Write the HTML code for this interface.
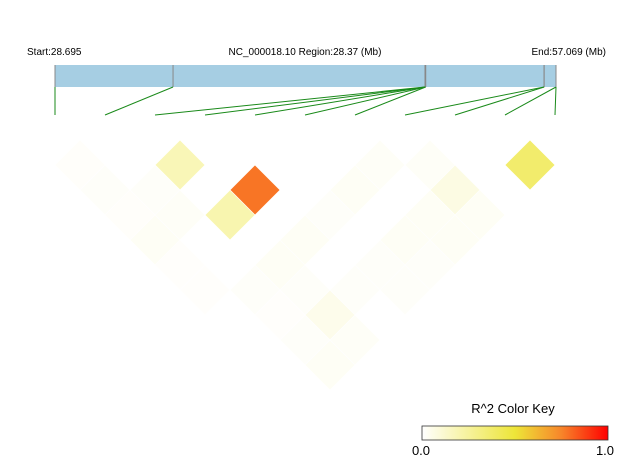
<!DOCTYPE html>
<html><head><meta charset="utf-8">
<style>
html,body{margin:0;padding:0;background:#fff;}
svg{display:block;font-family:"Liberation Sans",sans-serif;}
</style></head>
<body>
<svg id="chart" width="633" height="468" viewBox="0 0 633 468" xmlns="http://www.w3.org/2000/svg">
<defs>
<linearGradient id="keygrad" x1="0" x2="1" y1="0" y2="0">
<stop offset="0" stop-color="#ffffff"/>
<stop offset="0.5" stop-color="#ede538"/>
<stop offset="0.75" stop-color="#f7852a"/>
<stop offset="1" stop-color="#ff0000"/>
</linearGradient>
</defs>
<text x="27" y="55" font-size="10" fill="#000">Start:28.695</text>
<text x="305" y="55" font-size="10" fill="#000" text-anchor="middle">NC_000018.10 Region:28.37 (Mb)</text>
<text x="606" y="55" font-size="10" fill="#000" text-anchor="end">End:57.069 (Mb)</text>
<rect x="55" y="65" width="501" height="22" fill="#a6cee3"/>
<g id="snps"></g>
<g id="cells"></g>
<text x="513" y="413" font-size="13" fill="#000" text-anchor="middle">R^2 Color Key</text>
<rect x="422" y="426" width="186" height="14" fill="url(#keygrad)" stroke="#333" stroke-width="0.8"/>
<text x="421" y="455" font-size="13" fill="#000" text-anchor="middle">0.0</text>
<text x="605" y="455" font-size="13" fill="#000" text-anchor="middle">1.0</text>
</svg>
<script>
const snpPositions = [28.695, 35.38, 49.65, 49.66, 49.67, 49.68, 49.69, 56.39, 56.40, 57.069, 57.069];
const regionStart = 28.695;
const regionEnd = 57.069;
const pairI = [0,2,6,7,9, 0,1,3,5,7, 0,1,2,4,6,7, 0,3,5,6, 0,2,4,5, 0,1,2,3,4, 1,2, 1,2, 1];
const pairJ = [1,3,7,8,10, 2,3,5,7,9, 3,4,5,7,9,10, 4,7,9,10, 5,7,9,10, 6,7,8,9,10, 8,9, 9,10, 10];
const pairR2 = [0.012,0.18,0.02,0.02,0.37, 0.015,0.015,0.78,0.025,0.07, 0.012,0.02,0.2,0.015,0.025,0.025, 0.025,0.025,0.025,0.025, 0.01,0.025,0.015,0.015, 0.01,0.015,0.015,0.015,0.015, 0.01,0.05, 0.015,0.02, 0.025];

const NS='http://www.w3.org/2000/svg';
const snpX = i => 55 + 50*i;
const genomeX = p => 55 + (p-regionStart)/(regionEnd-regionStart)*501;
const stops=[[0,[255,255,255]],[0.5,[237,229,56]],[0.75,[247,133,42]],[1,[255,0,0]]];
function color(v){
  for(let k=0;k<stops.length-1;k++){
    const [a,ca]=stops[k],[b,cb]=stops[k+1];
    if(v<=b){const t=(v-a)/(b-a);return 'rgb('+ca.map((c,n)=>Math.round(c+(cb[n]-c)*t)).join(',')+')';}
  }
  return 'rgb(255,0,0)';
}
const snpG=document.getElementById('snps');
snpPositions.forEach((p,i)=>{
  const gx=genomeX(p);
  const tick=document.createElementNS(NS,'line');
  
  
  tick.setAttribute('x1',gx);tick.setAttribute('x2',gx);tick.setAttribute('y1',65);tick.setAttribute('y2',87);
  tick.setAttribute('stroke','#888');tick.setAttribute('stroke-width','1');
  snpG.appendChild(tick);
  const l=document.createElementNS(NS,'line');
  
  
  l.setAttribute('x1',gx);l.setAttribute('y1',87);l.setAttribute('x2',snpX(i));l.setAttribute('y2',115);
  l.setAttribute('stroke','#1a8a1a');l.setAttribute('stroke-width','1');
  snpG.appendChild(l);
});
const cellG=document.getElementById('cells');
const h=25;
pairR2.forEach((v,k)=>{
  const i=pairI[k], j=pairJ[k];
  const cx=(snpX(i)+snpX(j))/2, cy=140+h*(j-i);
  const d=document.createElementNS(NS,'polygon');
  
  
  d.setAttribute('points',`${cx},${cy-h} ${cx+h},${cy} ${cx},${cy+h} ${cx-h},${cy}`);
  d.setAttribute('fill',color(v));
  d.setAttribute('stroke','#fff');d.setAttribute('stroke-width','0.6');
  cellG.appendChild(d);
});
</script>
</body></html>
